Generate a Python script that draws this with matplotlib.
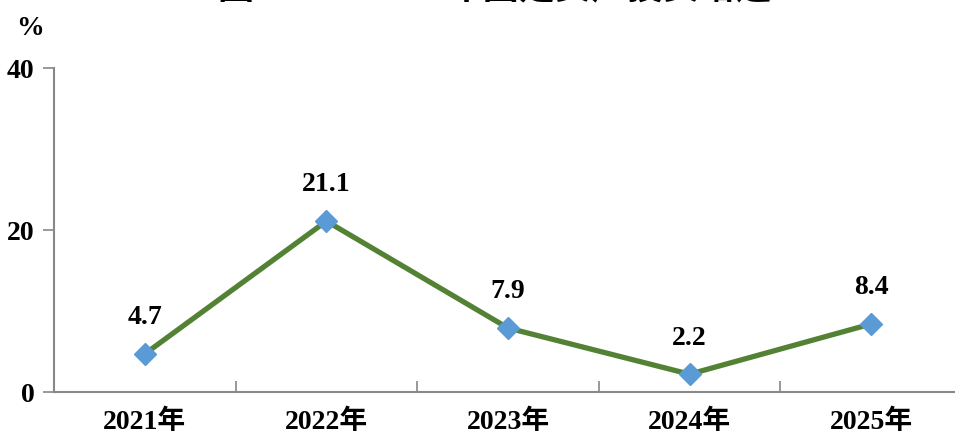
import matplotlib
matplotlib.use('Agg')
import matplotlib.pyplot as plt

plt.rcParams['font.family'] = ['Liberation Serif', 'Noto Sans CJK SC']
plt.rcParams['font.weight'] = 'bold'

years = ['2021年', '2022年', '2023年', '2024年', '2025年']
growth = [4.7, 21.1, 7.9, 2.2, 8.4]
title = '图7  2021-2025年固定资产投资增速'

fig = plt.figure(figsize=(9.55, 4.36), dpi=100)
ax = fig.add_axes([54/955, 44/436, 908/955, 324/436])

x = list(range(len(years)))
ax.plot(x, growth, color='#548235', linewidth=3.8, zorder=2)
ax.plot(x, growth, linestyle='', marker='D', markersize=11,
        markerfacecolor='#5B9BD5', markeredgecolor='#5B9BD5', zorder=3)
for xi, v in zip(x, growth):
    ax.annotate(f'{v}', (xi, v), xytext=(0, 26), textcoords='offset points',
                ha='center', va='center', fontsize=20, fontweight='bold')

ax.set_xlim(-0.5, 4.5)
ax.set_ylim(0, 40)
ax.set_yticks([0, 20, 40])
ax.set_xticks(x)
ax.set_xticklabels(years)
ax.set_xticks([0.5, 1.5, 2.5, 3.5], minor=True)
ax.tick_params(axis='x', which='major', length=0, pad=13, labelsize=20)
ax.tick_params(axis='x', which='minor', direction='in', length=8, color='#888888', width=1.2)
ax.tick_params(axis='y', direction='out', length=8, color='#888888', width=1.2,
               pad=6, labelsize=20)
for s in ['top', 'right']:
    ax.spines[s].set_visible(False)
for s in ['left', 'bottom']:
    ax.spines[s].set_color('#888888')
    ax.spines[s].set_linewidth(1.5)

fig.text(30/955, 1 - 28/436, '%', ha='center', va='center', fontsize=20, fontweight='bold')
fig.text(495/955, 1 + 11/436, title, ha='center', va='center', fontsize=26, fontweight='bold')

fig.savefig('out.png', dpi=100)
